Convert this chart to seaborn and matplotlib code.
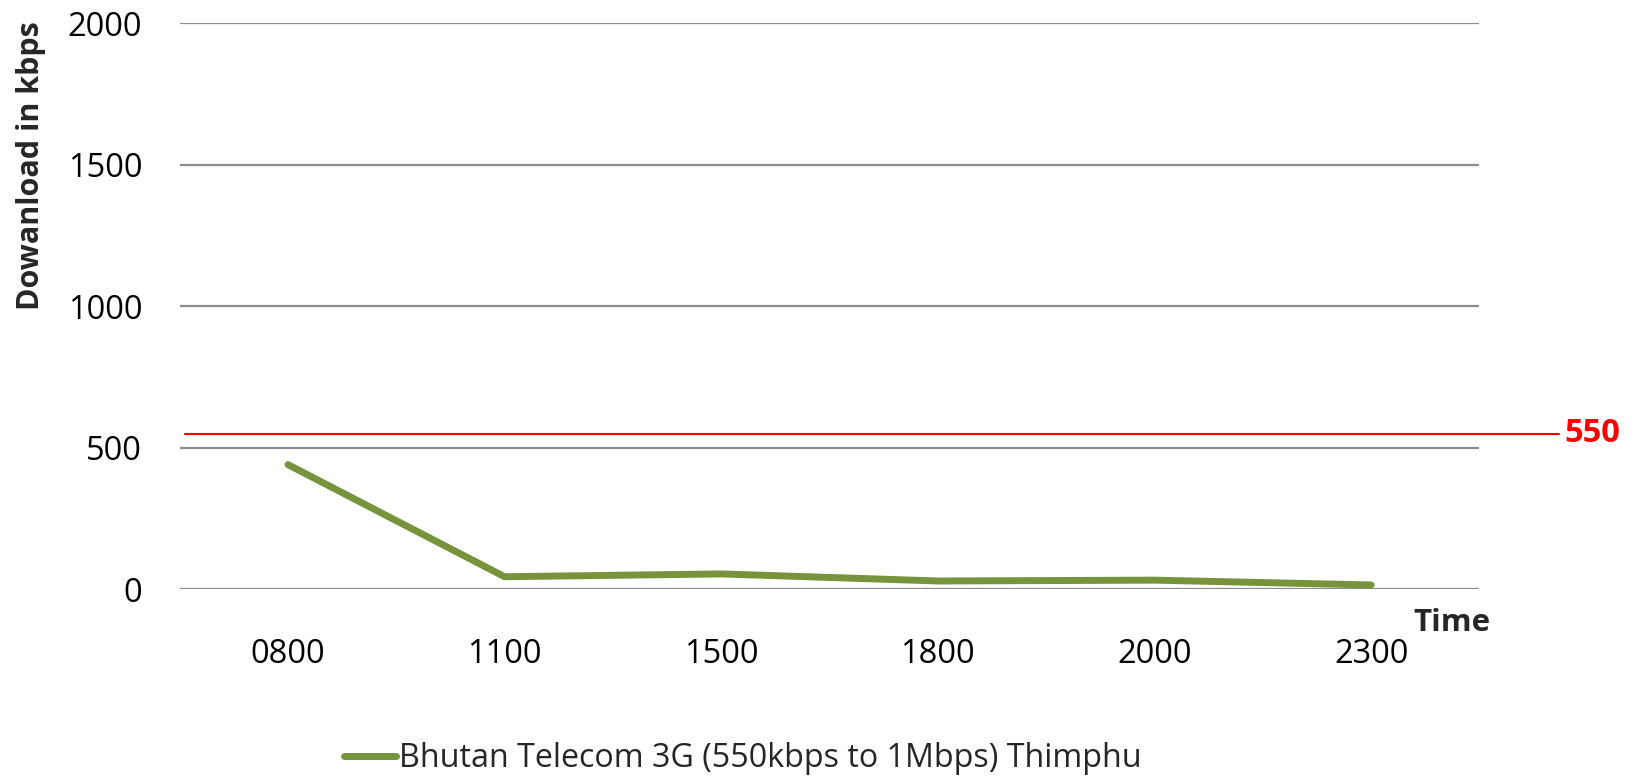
import matplotlib
matplotlib.use('Agg')
import matplotlib.pyplot as plt
import pandas as pd
import seaborn as sns

times = ['0800', '1100', '1500', '1800', '2000', '2300']
download_kbps = [441, 45, 55, 30, 33, 16]
series_name = 'Bhutan Telecom 3G (550kbps to 1Mbps) Thimphu'
threshold = 550
y_ticks = [0, 500, 1000, 1500, 2000]

green = '#77933C'
red = '#FF0000'
grid_grey = '#8C8C8C'


def main():
    sns.set_theme(style='white')
    plt.rcParams['font.family'] = ['Open Sans', 'DejaVu Sans']

    df = pd.DataFrame({'time': times, 'kbps': download_kbps, 'series': series_name})

    fig = plt.figure(figsize=(16.33, 7.78), dpi=100)
    ax = fig.add_axes([0.110, 0.2423, 0.796, 0.7281])

    sns.lineplot(data=df, x='time', y='kbps', hue='series', palette=[green],
                 linewidth=5, solid_capstyle='round', ax=ax, legend=False)

    ax.set_ylim(0, 2000)
    ax.set_xlim(-0.5, len(times) - 0.5)
    ax.set_yticks(y_ticks)
    ax.set_yticklabels([str(v) for v in y_ticks])
    ax.yaxis.grid(True, color=grid_grey, linewidth=1.6)
    ax.set_axisbelow(True)
    ax.tick_params(axis='both', length=0, labelsize=23.5, colors='black')
    ax.tick_params(axis='x', pad=35)
    ax.tick_params(axis='y', pad=27)
    sns.despine(ax=ax, left=True, bottom=True)
    ax.set_xlabel('')
    ax.set_ylabel('')

    # threshold line running past the plot area
    ax.axhline(threshold, xmin=0.004, xmax=1.061, color=red, linewidth=1.5,
               clip_on=False, zorder=1)
    ax.annotate(str(threshold), xy=(1.065, threshold), xycoords=('axes fraction', 'data'),
                ha='left', va='center', color=red, fontsize=23.5, fontweight='bold',
                annotation_clip=False)

    fig.text(0.019, 0.787, 'Dowanload in kbps', rotation=90, ha='center', va='center',
             fontsize=22, fontweight='bold')
    fig.text(0.889, 0.199, 'Time', ha='center', va='center',
             fontsize=22.5, fontweight='bold')

    handle = plt.Line2D([], [], color=green, linewidth=5, solid_capstyle='round')
    fig.legend([handle], [series_name], loc='center', bbox_to_anchor=(0.455, 0.025),
               frameon=False, fontsize=23.2, handlelength=1.6, handletextpad=0.1)

    fig.savefig('out.png', dpi=100)


if __name__ == '__main__':
    main()
